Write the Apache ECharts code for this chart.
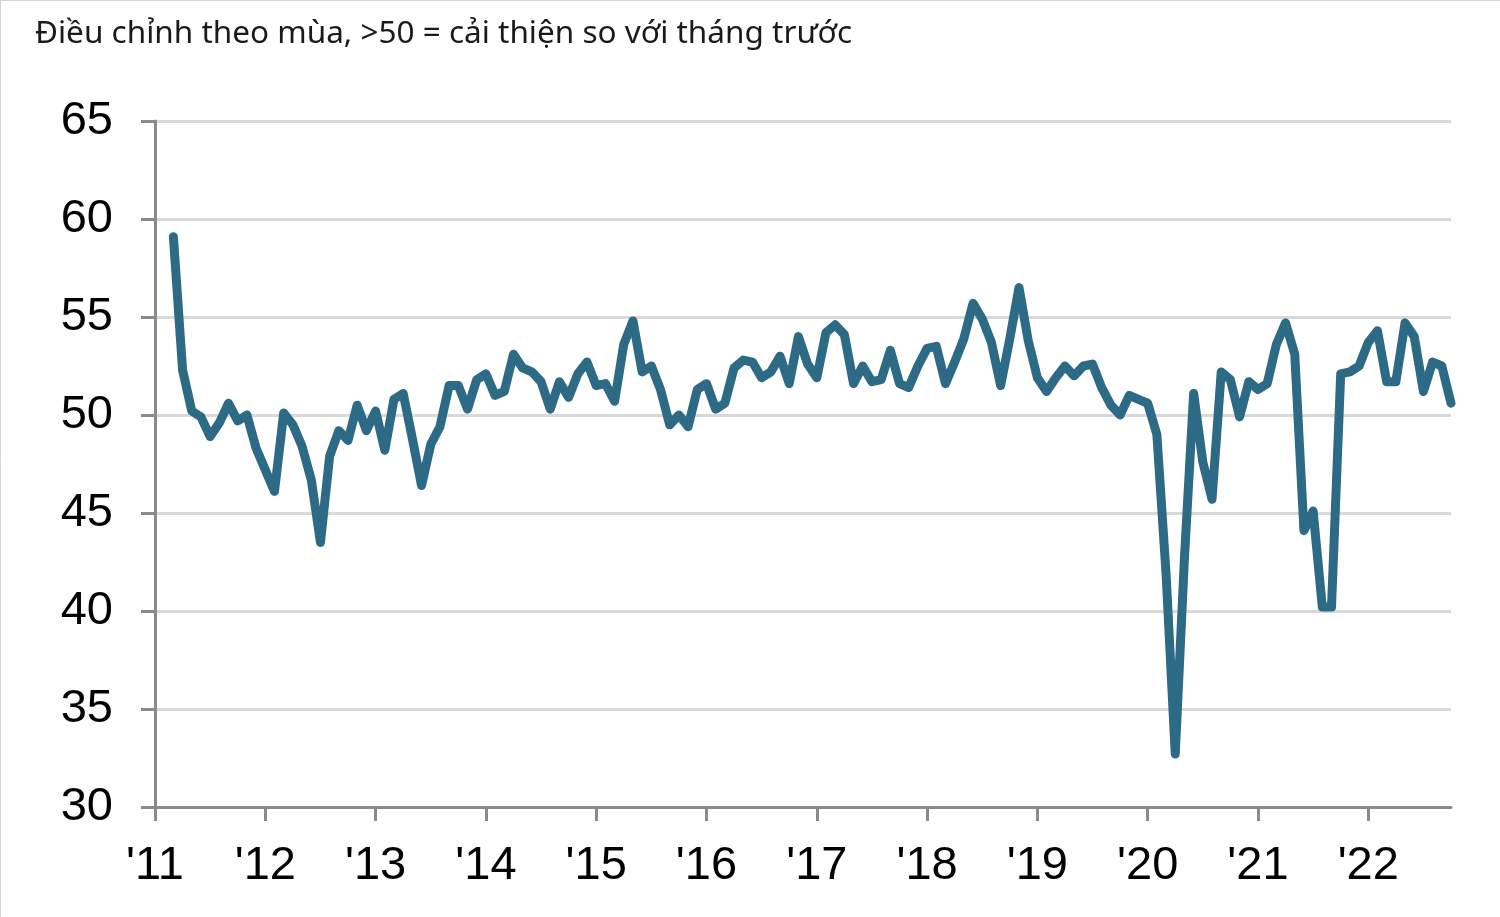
<!DOCTYPE html>
<html>
<head>
<meta charset="utf-8">
<script src="https://cdn.jsdelivr.net/npm/echarts@6/dist/echarts.min.js"></script>
<style>
html,body{margin:0;padding:0;background:#fff;}
#chart{width:1500px;height:917px;}
</style>
</head>
<body>
<div id="chart"></div>
<script>
// Monthly values, seasonally adjusted (first data point: March 2011)
const years = [2011,2012,2013,2014,2015,2016,2017,2018,2019,2020,2021,2022];
const v2011 = [null, null, 59.1, 52.3, 50.2, 49.9, 48.9, 49.6, 50.6, 49.7, 50.0, 48.3];
const v2012 = [47.2, 46.1, 50.1, 49.5, 48.4, 46.7, 43.5, 47.9, 49.2, 48.7, 50.5, 49.2];
const v2013 = [50.2, 48.2, 50.8, 51.1, 48.8, 46.4, 48.5, 49.4, 51.5, 51.5, 50.3, 51.8];
const v2014 = [52.1, 51.0, 51.2, 53.1, 52.4, 52.2, 51.7, 50.3, 51.7, 50.9, 52.1, 52.7];
const v2015 = [51.5, 51.6, 50.7, 53.6, 54.8, 52.2, 52.5, 51.3, 49.5, 50.0, 49.4, 51.3];
const v2016 = [51.6, 50.3, 50.6, 52.4, 52.8, 52.7, 51.9, 52.2, 53.0, 51.6, 54.0, 52.6];
const v2017 = [51.9, 54.2, 54.6, 54.1, 51.6, 52.5, 51.7, 51.8, 53.3, 51.6, 51.4, 52.5];
const v2018 = [53.4, 53.5, 51.6, 52.7, 53.9, 55.7, 54.9, 53.7, 51.5, 53.9, 56.5, 53.8];
const v2019 = [51.9, 51.2, 51.9, 52.5, 52.0, 52.5, 52.6, 51.4, 50.5, 50.0, 51.0, 50.8];
const v2020 = [50.6, 49.0, 41.9, 32.7, 42.7, 51.1, 47.6, 45.7, 52.2, 51.8, 49.9, 51.7];
const v2021 = [51.3, 51.6, 53.6, 54.7, 53.1, 44.1, 45.1, 40.2, 40.2, 52.1, 52.2, 52.5];
const v2022 = [53.7, 54.3, 51.7, 51.7, 54.7, 54.0, 51.2, 52.7, 52.5, 50.6];
const yearLabels = ["'11","'12","'13","'14","'15","'16","'17","'18","'19","'20","'21","'22"];
const yTicks = [30, 35, 40, 45, 50, 55, 60, 65];
const titleText = 'Điều chỉnh theo mùa, >50 = cải thiện so với tháng trước';

const yearValues = [v2011,v2012,v2013,v2014,v2015,v2016,v2017,v2018,v2019,v2020,v2021,v2022];
const categories = [];
const values = [];
yearValues.forEach((arr, yi) => {
  arr.forEach((v, mi) => {
    categories.push(years[yi] + '-' + String(mi + 1).padStart(2, '0'));
    values.push(v);
  });
});
const isJan = (idx, val) => /-01$/.test(val);
const labelFor = (val) => yearLabels[years.indexOf(parseInt(val.slice(0, 4), 10))];

const chart = echarts.init(document.getElementById('chart'), null, {renderer: 'canvas'});
const axisColor = '#8a8a8a';
chart.setOption({
  animation: false,
  backgroundColor: '#ffffff',
  title: {
    text: titleText,
    left: 35,
    top: 18,
    padding: 0,
    textStyle: {fontFamily: 'Noto Sans', fontSize: 31.5, fontWeight: 'normal', color: '#1a1a1a'}
  },
  graphic: [
    {type: 'line', shape: {x1: 0, y1: 0.5, x2: 1500, y2: 0.5}, style: {stroke: '#d4d4d4', lineWidth: 1}},
    {type: 'line', shape: {x1: 0.5, y1: 0, x2: 0.5, y2: 917}, style: {stroke: '#d4d4d4', lineWidth: 1}}
  ],
  grid: {left: 155, right: 49, top: 121, bottom: 110, containLabel: false},
  xAxis: {
    type: 'category',
    data: categories,
    boundaryGap: false,
    axisLine: {show: true, lineStyle: {color: axisColor, width: 3}},
    axisTick: {show: true, interval: isJan, length: 14, lineStyle: {color: axisColor, width: 3}},
    axisLabel: {
      interval: isJan,
      formatter: labelFor,
      margin: 36,
      fontFamily: 'Liberation Sans',
      fontSize: 47,
      color: '#000'
    },
    splitLine: {show: false}
  },
  yAxis: {
    type: 'value',
    min: yTicks[0],
    max: yTicks[yTicks.length - 1],
    interval: 5,
    axisLine: {show: true, lineStyle: {color: axisColor, width: 3}},
    axisTick: {show: true, length: 14, lineStyle: {color: axisColor, width: 3}},
    axisLabel: {margin: 42, fontFamily: 'Liberation Sans', fontSize: 47, color: '#000'},
    splitLine: {show: true, lineStyle: {color: '#d9d9d9', width: 3}}
  },
  series: [{
    type: 'line',
    data: values,
    showSymbol: false,
    connectNulls: false,
    lineStyle: {color: '#2d6a85', width: 9, join: 'round', cap: 'round'},
    z: 5
  }]
});
</script>
</body>
</html>
